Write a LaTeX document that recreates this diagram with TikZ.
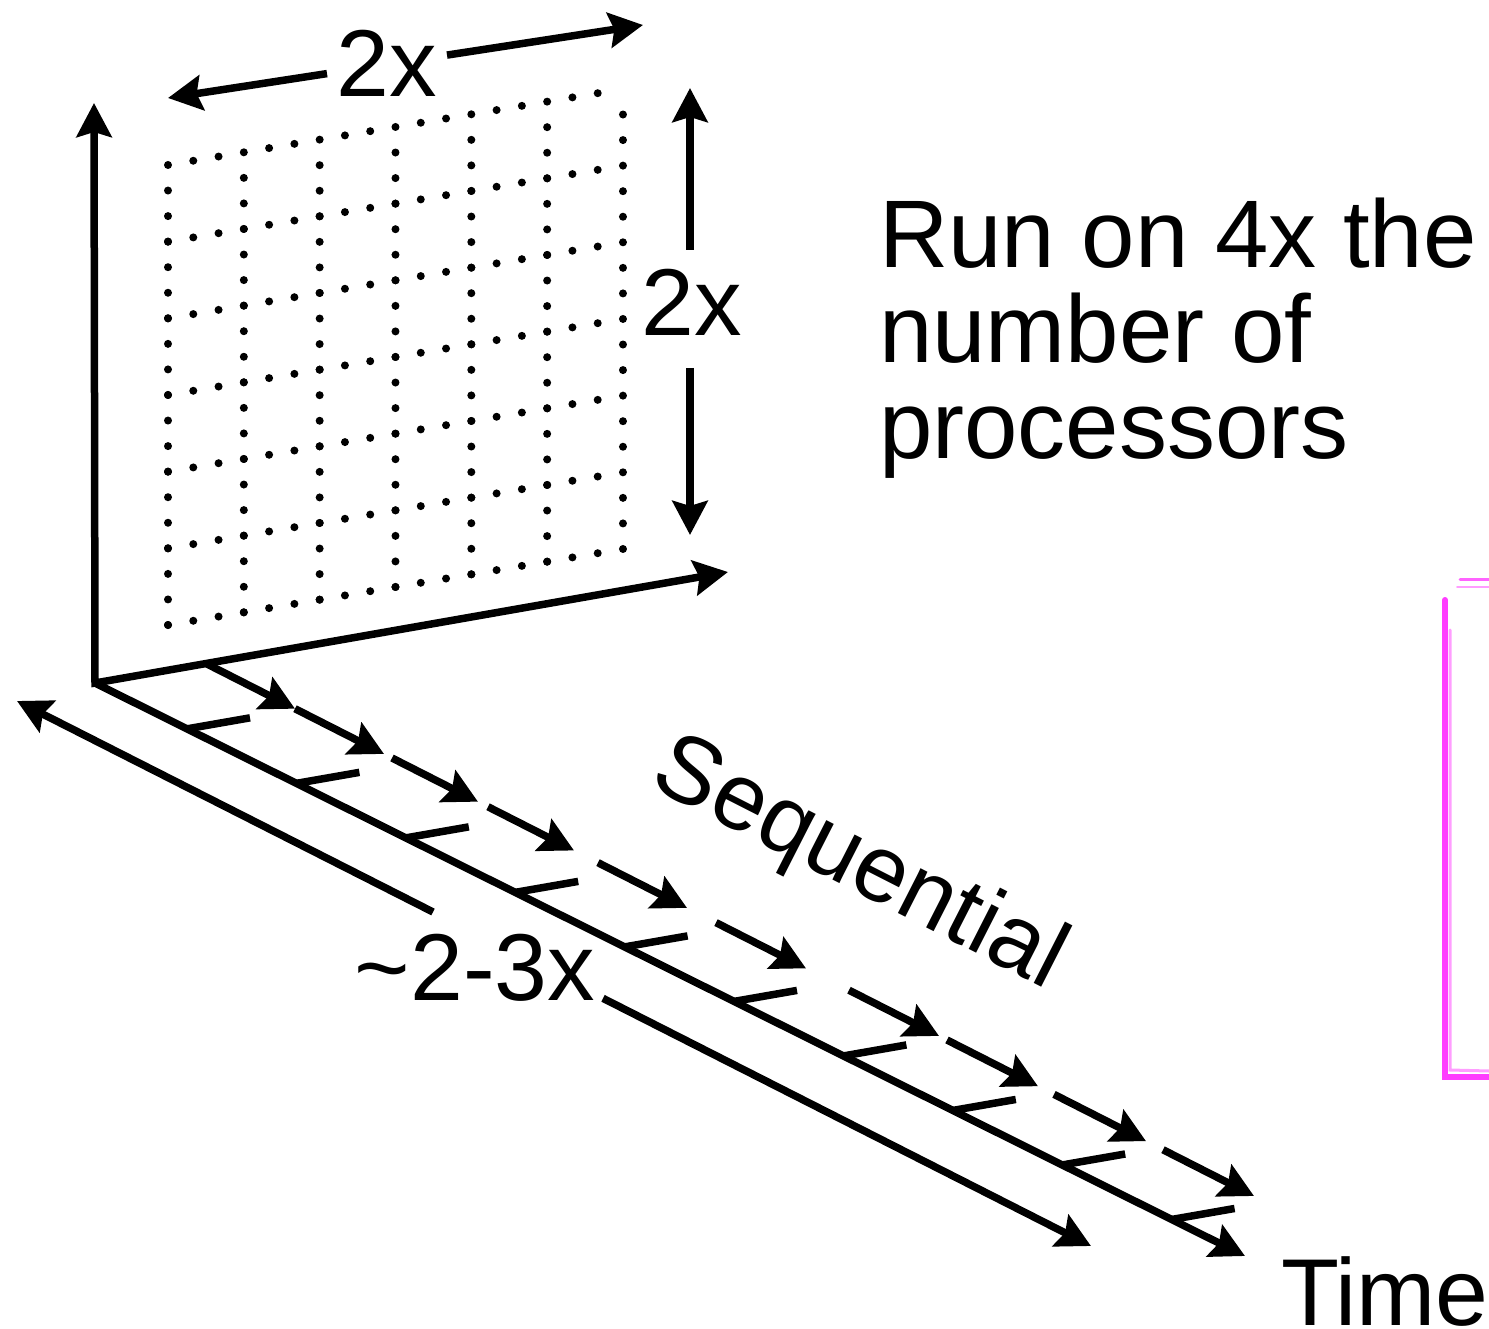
\documentclass[tikz,border=0pt]{standalone}
\usepackage{fontspec}
\setmainfont{Liberation Sans}
\usetikzlibrary{arrows.meta}
\definecolor{mag}{RGB}{255,60,255}
\tikzset{
  tipA/.tip={Stealth[length=34pt,width=35pt,inset=5pt]},
  ax/.style={line width=7.5pt,-tipA},
  dax/.style={line width=7.5pt,tipA-tipA},
  sax/.style={line width=7.5pt,tipA-},
  plainline/.style={line width=7.5pt},
  vdot/.style={line width=8pt,line cap=round,dash pattern=on 0pt off 25.56pt},
  hdot/.style={line width=8pt,line cap=round,dash pattern=on 0pt off 25.63pt},
  lbl/.style={font=\fontsize{95}{95}\selectfont,inner sep=0pt,outer sep=0pt},
  magline/.style={draw=mag,line cap=round},
}
\begin{document}
\begin{tikzpicture}[x=1pt,y=-1pt]
\useasboundingbox (0,0) rectangle (1489,1329);

% dotted grid (processor plane)
\foreach \i in {0,...,6}{
  \foreach \j in {0,...,5}{
    \draw[vdot] ({168+75.83*\i},{625-12.67*\i-76.67*\j}) -- ++(0,-76.67);
    \draw[hdot] ({168+75.83*\j},{625-12.67*\j-76.67*\i}) -- ++(75.83,-12.67);
  }
}

% axes
\coordinate (O) at (95,683);
\coordinate (ztip) at (94,103);
\coordinate (xtip) at (728,572);
\coordinate (ttip) at (1245,1256);
\draw[dax,line join=miter] (ztip) -- (O) -- (xtip);
\draw[ax] (O) -- (ttip);

% ticks on the time axis
\foreach \k in {0,...,9}{
  \pgfmathsetmacro{\tx}{187+109.4*\k}
  \pgfmathsetmacro{\ty}{683+(\tx-95)*0.4983}
  \coordinate (tk\k) at (\tx,\ty);
  \draw[plainline] (tk\k) -- ++(63,-11);
}

% dashed sequential arrows
\def\dy#1{664+(#1-207)*0.5081}
\foreach \s/\t [count=\n] in {207/295,295/384,392/478,488/574,598/687,716/806,849/939,947/1038,1054/1146,1163/1254}{
  \coordinate (sa\n) at (\s,{\dy{\s}});
  \coordinate (sb\n) at (\t,{\dy{\t}});
  \draw[ax] (sa\n) -- (sb\n);
}

% top 2x
\coordinate (tl) at (168,98);
\coordinate (tlg) at (327,73.6);
\coordinate (trg) at (447,55.1);
\coordinate (tr) at (643,25);
\node[lbl,anchor=base] (twoxtop) at (387,97) {2x};
\draw[sax] (tl) -- (tlg);
\draw[ax] (trg) -- (tr);

% right 2x
\coordinate (rt) at (690,88);
\coordinate (rtg) at (690,250);
\coordinate (rbg) at (690,368);
\coordinate (rb) at (690,535);
\node[lbl,anchor=base] (twoxright) at (692,336) {2x};
\draw[ax] (rtg) -- (rt);
\draw[ax] (rbg) -- (rb);

% ~2-3x
\coordinate (dl) at (17,701);
\coordinate (dlg) at (433,912);
\coordinate (drg) at (603,998.3);
\coordinate (dr) at (1091,1246);
\node[lbl,anchor=base] (twothree) at (475,1000) {\textasciitilde 2-3x};
\draw[sax] (dl) -- (dlg);
\draw[ax] (drg) -- (dr);

% texts
\node[lbl,anchor=base west,font=\fontsize{96}{96}\selectfont] (run1) at (879,268) {Run on 4x the};
\node[lbl,anchor=base west,font=\fontsize{96}{96}\selectfont] (run2) at (879,363) {number of};
\node[lbl,anchor=base west,font=\fontsize{96}{96}\selectfont] (run3) at (879,458) {processors};
\node[lbl,rotate=-27] (seq) at (859,866) {Sequential};
\node[lbl,anchor=base west] (time) at (1281,1325) {Time};

% magenta partial frame at right edge
\draw[magline,line width=6pt] (1445,600) -- (1445,1077) -- (1489,1077);
\draw[magline,line width=3pt,opacity=0.5] (1450,630) -- (1450,1070) -- (1489,1071);
\draw[magline,line width=3pt,opacity=0.8] (1460,579) -- (1489,579);
\draw[magline,line width=2pt,opacity=0.5] (1457,587) -- (1489,587);
\end{tikzpicture}
\end{document}
